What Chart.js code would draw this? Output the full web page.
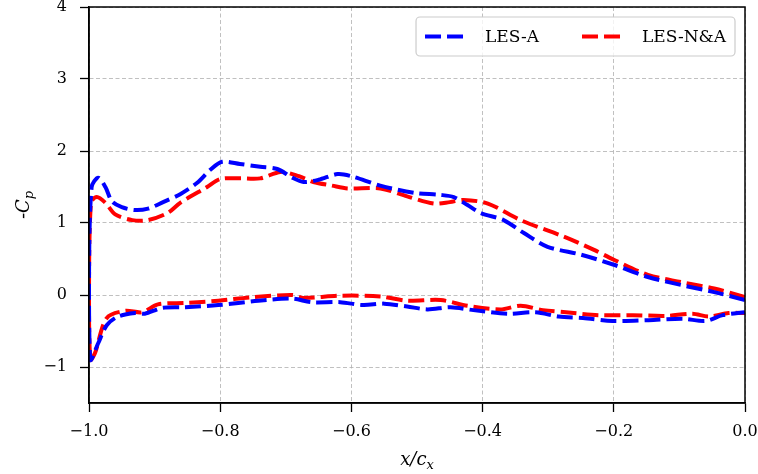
<!DOCTYPE html>
<html>
<head>
<meta charset="UTF-8">
<title>Cp distribution</title>
<script src="https://cdn.jsdelivr.net/npm/chart.js@4.4.0/dist/chart.umd.min.js"></script>
<style>
  body { margin: 0; background: #fff; }
</style>
</head>
<body>
<canvas id="myChart" width="758" height="474"></canvas>

<script>
// tick values
const xTicks = [-1.0, -0.8, -0.6, -0.4, -0.2, 0.0];
const yTicks = [-1, 0, 1, 2, 3, 4];

// LES-A, upper surface (leading edge -> trailing edge)
const aUpperX = [-1.0, -0.996, -0.986, -0.975, -0.965, -0.95, -0.93, -0.91, -0.887, -0.861, -0.835, -0.815, -0.797, -0.77, -0.739, -0.713, -0.69, -0.673, -0.65, -0.621, -0.6, -0.556, -0.505, -0.464, -0.444, -0.423, -0.403, -0.368, -0.337, -0.301, -0.25, -0.2, -0.148, -0.098, -0.047, 0.0];
const aUpperY = [0.2, 1.5, 1.63, 1.5, 1.3, 1.22, 1.18, 1.2, 1.29, 1.4, 1.56, 1.74, 1.85, 1.82, 1.78, 1.75, 1.63, 1.57, 1.6, 1.68, 1.65, 1.52, 1.42, 1.39, 1.36, 1.25, 1.14, 1.04, 0.86, 0.67, 0.56, 0.42, 0.25, 0.14, 0.04, -0.07];
// LES-A, lower surface
const aLowerX = [-0.998, -0.986, -0.973, -0.956, -0.93, -0.915, -0.889, -0.853, -0.803, -0.742, -0.69, -0.661, -0.617, -0.582, -0.55, -0.515, -0.484, -0.449, -0.414, -0.362, -0.319, -0.284, -0.247, -0.202, -0.147, -0.095, -0.06, -0.034, 0.0];
const aLowerY = [-0.9, -0.67, -0.42, -0.3, -0.25, -0.26, -0.18, -0.17, -0.14, -0.08, -0.05, -0.1, -0.1, -0.14, -0.12, -0.16, -0.2, -0.17, -0.21, -0.26, -0.24, -0.3, -0.32, -0.36, -0.35, -0.33, -0.36, -0.28, -0.24];

// LES-N&A, upper surface
const naUpperX = [-1.0, -0.997, -0.988, -0.975, -0.96, -0.934, -0.91, -0.88, -0.861, -0.82, -0.8, -0.77, -0.739, -0.708, -0.68, -0.658, -0.63, -0.606, -0.556, -0.515, -0.475, -0.45, -0.429, -0.392, -0.342, -0.276, -0.231, -0.2, -0.148, -0.098, -0.047, 0.0];
const naUpperY = [0.0, 1.28, 1.36, 1.28, 1.12, 1.04, 1.04, 1.14, 1.28, 1.5, 1.61, 1.62, 1.62, 1.71, 1.65, 1.57, 1.52, 1.48, 1.48, 1.37, 1.27, 1.29, 1.32, 1.27, 1.04, 0.81, 0.63, 0.49, 0.28, 0.18, 0.09, -0.03];
// LES-N&A, lower surface
const naLowerX = [-0.998, -0.991, -0.973, -0.945, -0.919, -0.895, -0.853, -0.803, -0.751, -0.69, -0.673, -0.617, -0.556, -0.515, -0.464, -0.423, -0.373, -0.342, -0.308, -0.273, -0.223, -0.171, -0.121, -0.08, -0.055, -0.025, 0.0];
const naLowerY = [-0.9, -0.81, -0.32, -0.22, -0.24, -0.13, -0.11, -0.08, -0.03, 0.0, -0.04, -0.01, -0.02, -0.08, -0.07, -0.15, -0.2, -0.15, -0.21, -0.24, -0.28, -0.28, -0.29, -0.26, -0.3, -0.25, -0.25];

// one closed path: trailing edge along the upper side to the nose, then back along the lower side
function loop(ux, uy, lx, ly) {
  const pts = [];
  for (let i = ux.length - 1; i >= 0; i--) pts.push({x: ux[i], y: uy[i]});
  for (let i = 0; i < lx.length; i++) pts.push({x: lx[i], y: ly[i]});
  return pts;
}

const FONT = '"DejaVu Serif", "Liberation Serif", serif';
const minus = v => (v < 0 ? '\u2212' : '') + Math.abs(v);

// frame, axis titles and legend drawn over the plot
const extras = {
  id: 'extras',
  afterDraw(chart) {
    const ctx = chart.ctx;
    const a = chart.chartArea;
    ctx.save();

    // box round the plot
    ctx.strokeStyle = '#000';
    ctx.lineWidth = 1.5;
    ctx.strokeRect(a.left, a.top, a.right - a.left, a.bottom - a.top);

    ctx.fillStyle = '#000';
    ctx.textBaseline = 'alphabetic';

    // y title: -C_p
    ctx.save();
    ctx.translate(29, (a.top + a.bottom) / 2);
    ctx.rotate(-Math.PI / 2);
    ctx.font = 'italic 18px ' + FONT;
    const w1 = ctx.measureText('-C').width;
    ctx.font = 'italic 13px ' + FONT;
    const w2 = ctx.measureText('p').width;
    let sx = -(w1 + w2) / 2;
    ctx.font = 'italic 18px ' + FONT;
    ctx.fillText('-C', sx, 0);
    ctx.font = 'italic 13px ' + FONT;
    ctx.fillText('p', sx + w1, 4);
    ctx.restore();

    // x title: x/c_x
    ctx.font = 'italic 18px ' + FONT;
    const t1 = ctx.measureText('x/c').width;
    ctx.font = 'italic 13px ' + FONT;
    const t2 = ctx.measureText('x').width;
    sx = (a.left + a.right) / 2 - (t1 + t2) / 2;
    ctx.font = 'italic 18px ' + FONT;
    ctx.fillText('x/c', sx, 465);
    ctx.font = 'italic 13px ' + FONT;
    ctx.fillText('x', sx + t1, 469);

    // legend
    ctx.font = '17px ' + FONT;
    const ds = chart.data.datasets;
    const pad = 9, handle = 44, gapT = 16, gapC = 43;
    let width = pad * 2;
    ds.forEach((d, i) => {
      width += handle + gapT + ctx.measureText(d.label).width + (i < ds.length - 1 ? gapC : 0);
    });
    const bh = 39;
    const bx = a.right - 10 - width;
    const by = a.top + 10;
    ctx.beginPath();
    ctx.roundRect(bx, by, width, bh, 4);
    ctx.fillStyle = 'rgba(255,255,255,0.8)';
    ctx.fill();
    ctx.strokeStyle = '#cccccc';
    ctx.lineWidth = 1.2;
    ctx.stroke();

    let x = bx + pad;
    const cy = by + bh / 2;
    ds.forEach(d => {
      ctx.beginPath();
      ctx.setLineDash(d.borderDash);
      ctx.strokeStyle = d.borderColor;
      ctx.lineWidth = d.borderWidth;
      ctx.moveTo(x, cy);
      ctx.lineTo(x + handle, cy);
      ctx.stroke();
      ctx.setLineDash([]);
      x += handle + gapT;
      ctx.fillStyle = '#000';
      ctx.textBaseline = 'middle';
      ctx.fillText(d.label, x, cy + 1);
      x += ctx.measureText(d.label).width + gapC;
    });
    ctx.restore();
  }
};

new Chart('myChart', {
  type: 'scatter',
  data: {
    datasets: [
      {
        label: 'LES-A',
        data: loop(aUpperX, aUpperY, aLowerX, aLowerY),
        showLine: true,
        borderColor: '#0000ff',
        borderWidth: 4,
        borderDash: [16, 6],
        pointRadius: 0,
        tension: 0.3,
        fill: false
      },
      {
        label: 'LES-N&A',
        data: loop(naUpperX, naUpperY, naLowerX, naLowerY),
        showLine: true,
        borderColor: '#ff0000',
        borderWidth: 4,
        borderDash: [16, 6],
        pointRadius: 0,
        tension: 0.3,
        fill: false
      }
    ]
  },
  options: {
    responsive: false,
    animation: false,
    devicePixelRatio: 1,
    layout: { padding: { left: 0, right: 13, top: 7, bottom: 0 } },
    plugins: {
      legend: { display: false },
      tooltip: { enabled: false }
    },
    scales: {
      x: {
        type: 'linear',
        min: -1.0,
        max: 0.0,
        afterBuildTicks: s => { s.ticks = xTicks.map(v => ({value: v})); },
        afterFit: s => { s.height = 71; s.paddingLeft = 0; s.paddingRight = 0; },
        ticks: {
          color: '#000',
          font: { family: FONT, size: 16 },
          padding: 10,
          maxRotation: 0,
          callback: v => (v < 0 ? '\u2212' : '') + Math.abs(v).toFixed(1)
        },
        grid: { color: '#b0b0b0', lineWidth: 0.8, tickColor: '#000', tickLength: 9, tickWidth: 1.3 },
        border: { color: '#000', width: 1.5, dash: [4, 2.5] }
      },
      y: {
        type: 'linear',
        min: -1.5,
        max: 4,
        afterBuildTicks: s => { s.ticks = yTicks.map(v => ({value: v})); },
        afterFit: s => { s.width = 89; s.paddingTop = 0; s.paddingBottom = 0; },
        ticks: {
          color: '#000',
          font: { family: FONT, size: 16 },
          padding: 13,
          callback: minus
        },
        grid: { color: '#b0b0b0', lineWidth: 0.8, tickColor: '#000', tickLength: 9, tickWidth: 1.3 },
        border: { color: '#000', width: 1.5, dash: [4, 2.5] }
      }
    }
  },
  plugins: [extras]
});
</script>
</body>
</html>
